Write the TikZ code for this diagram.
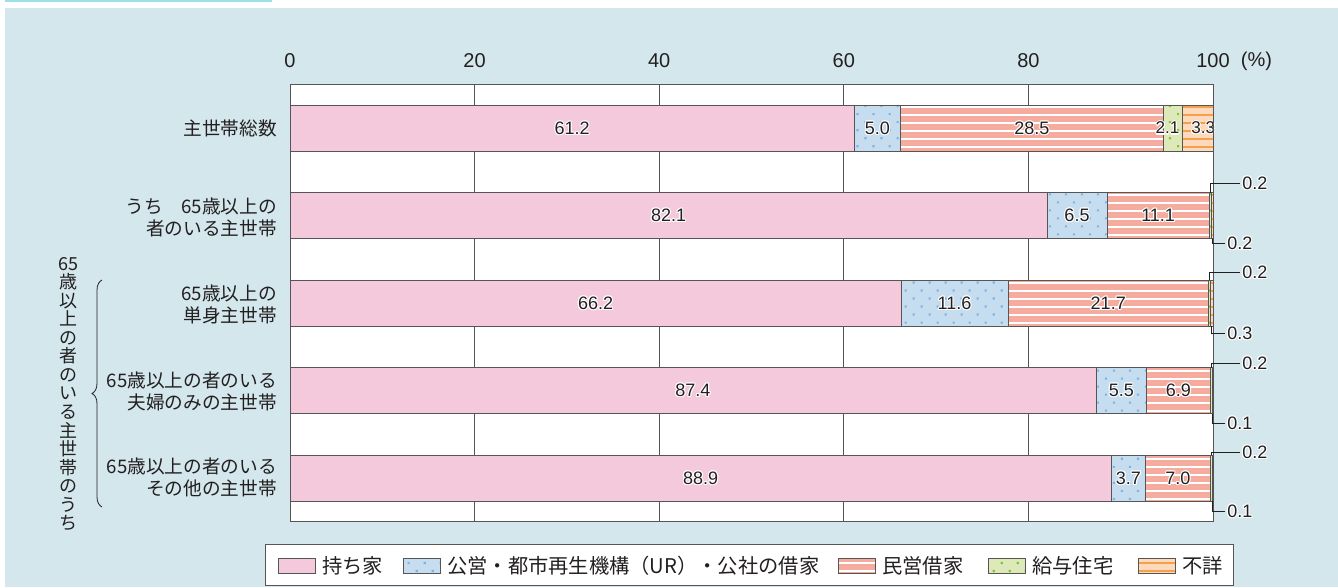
\documentclass[tikz,border=0pt]{standalone}
\usepackage{fontspec}
\setmainfont{Noto Sans CJK JP}
\newfontfamily\numfont{Liberation Sans}
\usetikzlibrary{patterns.meta,decorations.pathreplacing}

\definecolor{panel}{HTML}{D3E7EC}
\definecolor{tabline}{HTML}{9EE0E8}
\definecolor{ownC}{HTML}{F4C9DB}
\definecolor{pubC}{HTML}{C6DDEF}
\definecolor{pubD}{HTML}{7FB2E0}
\definecolor{privC}{HTML}{F5AB9D}
\definecolor{empC}{HTML}{DEE9BA}
\definecolor{empD}{HTML}{86C23A}
\definecolor{unkC}{HTML}{FDD9BD}
\definecolor{unkD}{HTML}{F5A04A}
\definecolor{edge}{HTML}{555555}
\definecolor{ink}{HTML}{231F20}

\tikzset{
  seg/.style={draw=edge,line width=.5pt},
  own/.style={seg,fill=ownC},
  pub/.style={seg,preaction={fill=pubC},pattern={Dots[distance=8.5pt,angle=45,radius=1.1pt]},pattern color=pubD},
  priv/.style={seg,preaction={fill=privC},pattern={Lines[distance=6pt,line width=1.1pt]},pattern color=white},
  emp/.style={seg,preaction={fill=empC},pattern={Dots[distance=8.5pt,angle=45,radius=1.1pt]},pattern color=empD},
  unk/.style={seg,preaction={fill=unkC},pattern={Lines[distance=6pt,line width=1.2pt]},pattern color=unkD},
  val/.style={font=\numfont\fontsize{13.5}{16}\selectfont,text=ink,inner sep=0pt},
  tight/.style={font=\numfont\fontsize{12.8}{15}\selectfont},
  axis/.style={font=\numfont\fontsize{15}{18}\selectfont,text=ink,inner sep=1pt},
  rowlabel/.style={font=\fontsize{14}{16.5}\selectfont,text=ink,align=right,anchor=east,inner sep=0pt},
  leg/.style={font=\fontsize{15.2}{17}\selectfont,text=ink,anchor=west,inner sep=0pt},
  lead/.style={draw=ink,line width=.6pt},
  sidebrace/.style={draw=ink,line width=.6pt,decorate,decoration={brace,amplitude=7.5pt}}
}

% number with a white rim
\newcommand{\valnode}[4][]{%
  \foreach \hx/\hy in {.8/0,-.8/0,0/.8,0/-.8,.6/.6,-.6/.6,.6/-.6,-.6/-.6}
    \node[val,#1,text=white,xshift=\hx pt,yshift=\hy pt] at (#3) {#4};
  \node[val,#1] (#2) at (#3) {#4};}

\begin{document}
\begin{tikzpicture}[x=.75pt,y=-.75pt]
\useasboundingbox (0,0) rectangle (1338,587);
\fill[white] (0,0) rectangle (1338,587);
%panel
\fill[panel] (5,8) rectangle (1338,587);
\fill[tabline] (5,0) rectangle (272,1.5);
\def\xo{290}
\def\u{9.23}
%plot area and grid
\fill[white] (\xo,84) rectangle (\xo+\u*100,521);
\foreach \t in {20,40,60,80}
  \draw[edge,line width=.6pt] (\xo+\u*\t,84) -- (\xo+\u*\t,521);
\foreach \t in {0,20,...,100}
  \node[axis] (t\t) at (\xo+\u*\t,61) {\t};
\node[axis,anchor=west] (pct) at ([xshift=6pt]t100.east) {(\%)};
%bars
\foreach \yt/\a/\b/\c/\d/\e/\r in {105/61.2/5.0/28.5/2.1/3.3/1,192.5/82.1/6.5/11.1/0.2/0.2/2,280/66.2/11.6/21.7/0.2/0.3/3,367.5/87.4/5.5/6.9/0.2/0.1/4,455/88.9/3.7/7.0/0.2/0.1/5}{
  \pgfmathsetmacro\k{\u*100/(\a+\b+\c+\d+\e)}
  \pgfmathsetmacro\xa{\xo+\k*\a}
  \pgfmathsetmacro\xb{\xa+\k*\b}
  \pgfmathsetmacro\xc{\xb+\k*\c}
  \pgfmathsetmacro\xd{\xc+\k*\d}
  \pgfmathsetmacro\xe{\xo+\u*100}
  \pgfmathsetmacro\yb{\yt+46}
  \pgfmathsetmacro\ym{\yt+23}
  \draw[own] (\xo,\yt) rectangle (\xa,\yb);
  \draw[pub] (\xa,\yt) rectangle (\xb,\yb);
  \draw[priv] (\xb,\yt) rectangle (\xc,\yb);
  \draw[emp] (\xc,\yt) rectangle (\xd,\yb);
  \draw[unk] (\xd,\yt) rectangle (\xe,\yb);
  \coordinate (g\r) at ({(\xc+\xd)/2},\yt);
  \coordinate (o\r) at ({(\xd+\xe)/2},\yb);
  \valnode{va\r}{{(\xo+\xa)/2},\ym}{\a}
  \valnode{vb\r}{{(\xa+\xb)/2},\ym}{\b}
  \valnode{vc\r}{{(\xb+\xc)/2},\ym}{\c}
  \ifnum\r=1
    \valnode[tight,xshift=-4pt]{vd\r}{{(\xc+\xd)/2},\ym}{\d}
    \valnode[tight,xshift=4pt]{ve\r}{{(\xd+\xe)/2},\ym}{\e}
  \fi
}
\draw[edge,line width=.75pt] (\xo,84) rectangle (\xo+\u*100,521);
%small shares
\foreach \r/\yu/\vu/\yl/\vl in {2/183/0.2/243/0.2,3/272/0.2/333/0.3,4/363/0.2/423/0.1,5/452/0.2/511/0.1}{
  \valnode[anchor=west]{u\r}{1242,\yu}{\vu}
  \valnode[anchor=west]{l\r}{1227,\yl}{\vl}
  \draw[lead] (g\r) |- ([xshift=-1.5pt]u\r.west);
  \draw[lead] (o\r) |- ([xshift=-1.5pt]l\r.west);
}
%row labels
\node[rowlabel] (r1) at (277,128) {主世帯総数};
\node[rowlabel] (r2) at (277,217.5) {うち　65歳以上の\\者のいる主世帯};
\node[rowlabel] (r3) at (277,304) {65歳以上の\\単身主世帯};
\node[rowlabel] (r4) at (277,391) {65歳以上の者のいる\\夫婦のみの主世帯};
\node[rowlabel] (r5) at (277,477.5) {65歳以上の者のいる\\その他の主世帯};
%group
\node[font=\fontsize{13.5}{13.9}\selectfont,text=ink,align=center,inner sep=0pt] (grp) at (68,394)
  {65\\歳\\以\\上\\の\\者\\の\\い\\る\\主\\世\\帯\\の\\う\\ち};
\draw[sidebrace] (102,507) -- (102,280);
%legend
\draw[edge,fill=white,line width=.75pt] (265,544) rectangle (1233,585);
\foreach \x/\st/\txt/\n in {278/own/持ち家/1,403/pub/公営・都市再生機構（UR）・公社の借家/2,838/priv/民営借家/3,988/emp/給与住宅/4,1138/unk/不詳/5}{
  \draw[\st] (\x,558) rectangle ++(37,15);
  \node[leg] (l\n) at (\x+44,565.5) {\txt};
}
\end{tikzpicture}
\end{document}
